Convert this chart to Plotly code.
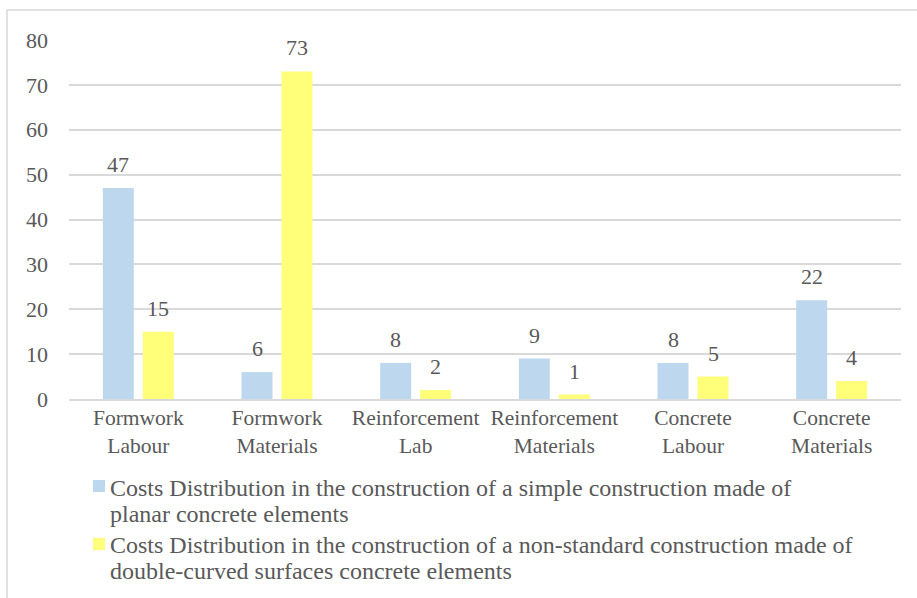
import plotly.graph_objects as go

# Cost categories and their tick labels
categories = ["Formwork Labour", "Formwork Materials", "Reinforcement Lab",
              "Reinforcement Materials", "Concrete Labour", "Concrete Materials"]
tick_labels = ["Formwork<br>Labour", "Formwork<br>Materials", "Reinforcement<br>Lab",
               "Reinforcement<br>Materials", "Concrete<br>Labour", "Concrete<br>Materials"]

# Cost shares (%) for each construction type
planar_costs = [47, 6, 8, 9, 8, 22]
curved_costs = [15, 73, 2, 1, 5, 4]

# Series names, one entry per printed line
planar_name = ["Costs Distribution in the construction of a simple construction made of",
               "planar concrete elements"]
curved_name = ["Costs Distribution in the construction of a non-standard construction made of",
               "double-curved surfaces concrete elements"]

y_ticks = [0, 10, 20, 30, 40, 50, 60, 70, 80]

FONT = "Liberation Serif, Times New Roman, serif"
TEXT = "#595959"
GRID = "#D9D9D9"
BLUE = "#BDD7EE"
YELLOW = "#FFFF79"

W, H = 917, 598
L, R, T, B = 69, 16, 40, 199
PW, PH = W - L - R, H - T - B


def px_x(px):
    return (px - L) / PW


def px_y(py):
    return (H - B - py) / PH


fig = go.Figure()
fig.add_trace(go.Bar(x=categories, y=planar_costs, name=" ".join(planar_name),
                     marker=dict(color=BLUE, line=dict(width=0)), showlegend=False))
fig.add_trace(go.Bar(x=categories, y=curved_costs, name=" ".join(curved_name),
                     marker=dict(color=YELLOW, line=dict(width=0)), showlegend=False))

# value labels above each bar
annotations = []
for series, shift in ((planar_costs, -20), (curved_costs, 20)):
    for cat, v in zip(categories, series):
        annotations.append(dict(
            x=cat, y=v, xref="x", yref="y", text=str(v), showarrow=False,
            xshift=shift, yshift=9, yanchor="bottom",
            font=dict(family=FONT, size=22, color=TEXT)))

# legend below the chart: colour key plus two-line series names
shapes = [dict(type="rect", xref="paper", yref="paper",
               x0=px_x(7), x1=1.1, y0=-0.7, y1=px_y(10),
               line=dict(color=GRID, width=1.5), fillcolor="rgba(0,0,0,0)",
               layer="below")]
legend_rows = [(BLUE, planar_name, 480, 488), (YELLOW, curved_name, 538, 545)]
for color, lines, sq_top, first_line in legend_rows:
    shapes.append(dict(type="rect", xref="paper", yref="paper",
                       x0=px_x(93), x1=px_x(105), y0=px_y(sq_top + 12), y1=px_y(sq_top),
                       line=dict(width=0), fillcolor=color))
    for i, line in enumerate(lines):
        annotations.append(dict(
            x=px_x(108), y=px_y(first_line + 26 * i), xref="paper", yref="paper",
            text=line, showarrow=False, xanchor="left", yanchor="middle",
            font=dict(family=FONT, size=24, color=TEXT)))

fig.update_layout(
    width=W, height=H,
    margin=dict(l=L, r=R, t=T, b=B, autoexpand=False),
    paper_bgcolor="white", plot_bgcolor="white",
    barmode="group", bargap=0.423, bargroupgap=0.225,
    font=dict(family=FONT, size=22, color=TEXT),
    showlegend=False,
    annotations=annotations,
    shapes=shapes,
)

fig.update_xaxes(
    tickmode="array", tickvals=categories, ticktext=tick_labels,
    showline=True, linecolor=GRID, linewidth=1.5, ticks="",
    showgrid=False, ticklabelstandoff=-2, automargin=False,
    tickfont=dict(family=FONT, size=21.5, color=TEXT),
)
fig.update_yaxes(
    range=[0, 80], tickmode="array", tickvals=y_ticks,
    showgrid=True, gridcolor=GRID, gridwidth=1.5, zeroline=False,
    showline=False, ticks="", ticklabelstandoff=20, automargin=False,
    tickfont=dict(family=FONT, size=22, color=TEXT),
)

fig.write_html("out.html")
